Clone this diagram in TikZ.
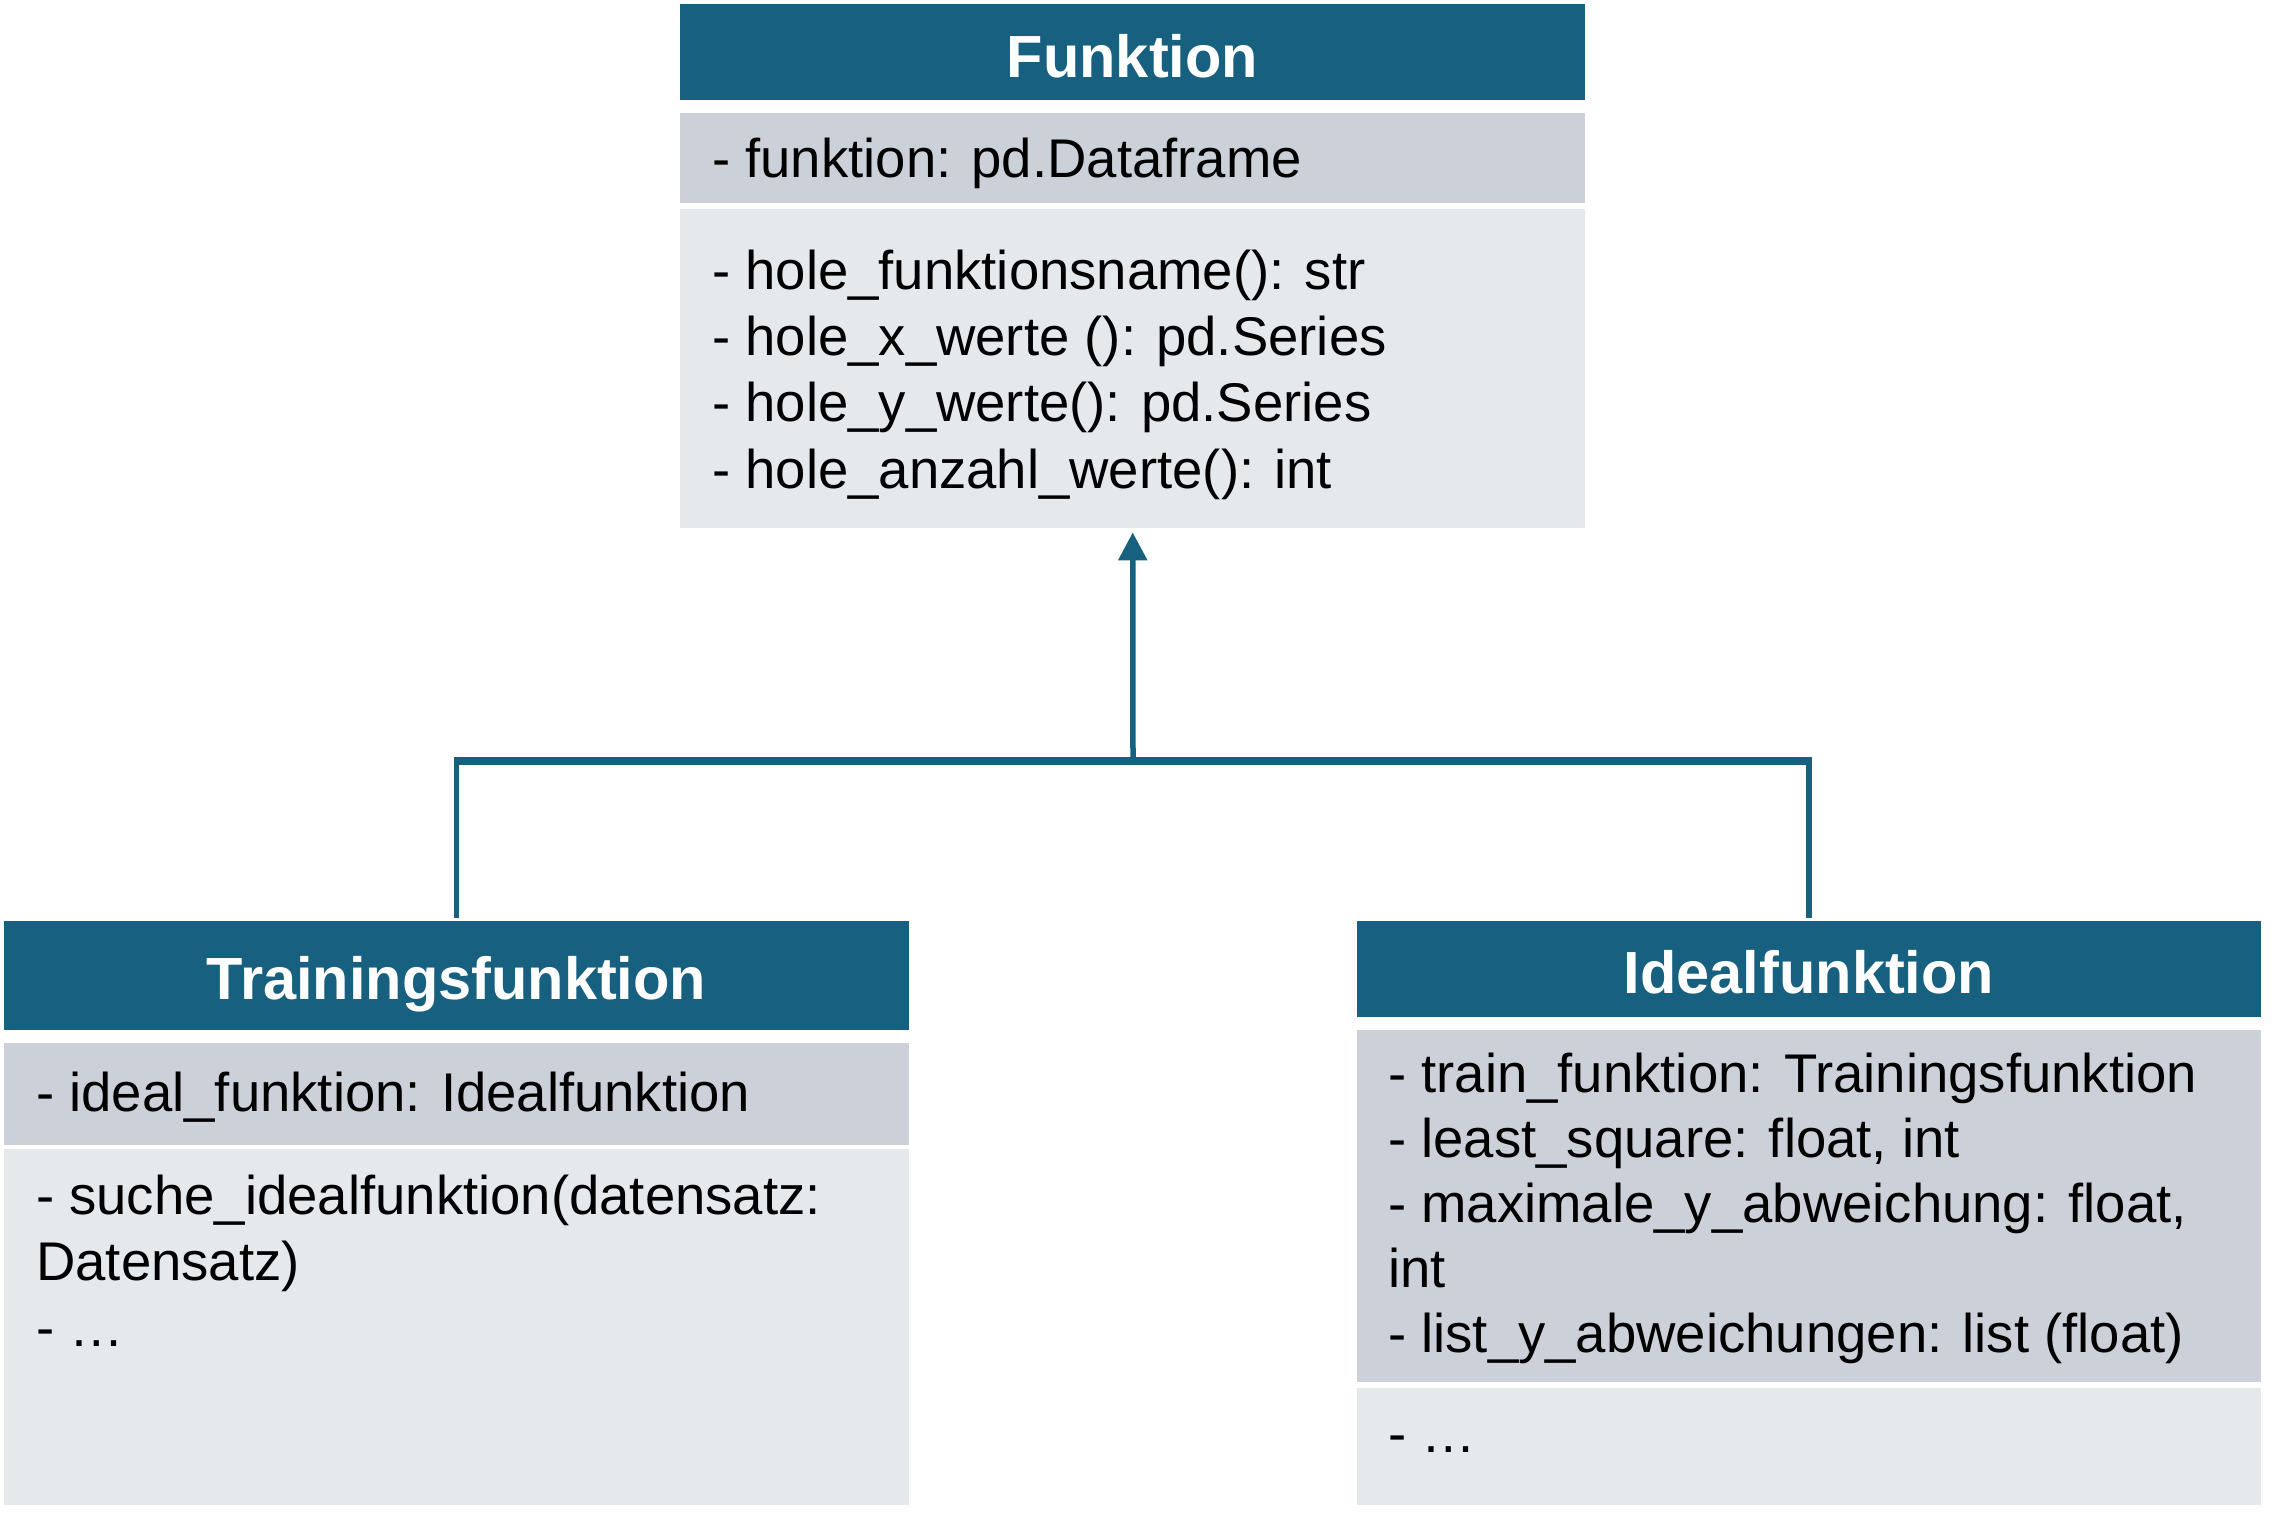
\documentclass[tikz,border=0pt]{standalone}
\usepackage{fontspec}
\setmainfont{Liberation Sans}
\usetikzlibrary{arrows.meta}
\definecolor{headc}{RGB}{23,96,128}
\definecolor{attrc}{RGB}{204,209,217}
\definecolor{methc}{RGB}{230,233,236}
\begin{document}
\begin{tikzpicture}[x=1pt,y=-1pt,
  band/.style={rectangle,inner sep=0pt,draw=none,anchor=north west},
  headband/.style={band,fill=headc},
  attrband/.style={band,fill=attrc},
  methband/.style={band,fill=methc},
  title/.style={inner sep=0pt,anchor=base,text=white,font=\fontsize{59.5}{70}\selectfont\bfseries},
  txt/.style={inner sep=0pt,anchor=base west,text=black,font=\fontsize{54.5}{66}\selectfont},
  vert/.style={draw=headc,line width=5.5pt},
  bar/.style={draw=headc,line width=8pt}]
\useasboundingbox (0,0) rectangle (2274,1515);
% Funktion
\node[headband,minimum width=905,minimum height=96] (fhead) at (680,4) {};
\node[attrband,minimum width=905,minimum height=90] (fattr) at (680,113) {};
\node[methband,minimum width=905,minimum height=319] (fmeth) at (680,209) {};
\node[title] (ftitle) at (1132.5,77) {Funktion};
\node[txt] (fa1) at (712,177) {- funktion: pd.Dataframe};
\node[txt] (fm1) at (712,289) {- hole\_funktionsname(): str};
\node[txt] (fm2) at (712,355) {- hole\_x\_werte (): pd.Series};
\node[txt] (fm3) at (712,421) {- hole\_y\_werte(): pd.Series};
\node[txt] (fm4) at (712,488) {- hole\_anzahl\_werte(): int};
% Trainingsfunktion
\node[headband,minimum width=905,minimum height=109] (thead) at (4,921) {};
\node[attrband,minimum width=905,minimum height=102] (tattr) at (4,1043) {};
\node[methband,minimum width=905,minimum height=356] (tmeth) at (4,1149) {};
\node[title] (ttitle) at (456.5,999) {Trainingsfunktion};
\node[txt] (ta1) at (36,1111) {- ideal\_funktion: Idealfunktion};
\node[txt] (tm1) at (36,1214) {- suche\_idealfunktion(datensatz:};
\node[txt] (tm2) at (36,1280) {Datensatz)};
\node[txt] (tm3) at (36,1346) {- …};
% Idealfunktion
\node[headband,minimum width=904,minimum height=96] (ihead) at (1357,921) {};
\node[attrband,minimum width=904,minimum height=352] (iattr) at (1357,1030) {};
\node[methband,minimum width=904,minimum height=117] (imeth) at (1357,1388) {};
\node[title] (ititle) at (1809,993) {Idealfunktion};
\node[txt] (ia1) at (1388,1092) {- train\_funktion: Trainingsfunktion};
\node[txt] (ia2) at (1388,1157) {- least\_square: float, int};
\node[txt] (ia3) at (1388,1222) {- maximale\_y\_abweichung: float,};
\node[txt] (ia4) at (1388,1287) {int};
\node[txt] (ia5) at (1388,1352) {- list\_y\_abweichungen: list (float)};
\node[txt] (im1) at (1388,1452) {- …};
% connectors
\coordinate (join) at (1133,761);
\draw[vert] ([yshift=3pt]thead.north) -- (thead.north |- join);
\draw[vert] ([yshift=3pt]ihead.north) -- (ihead.north |- join);
\draw[bar] ([xshift=-2.75pt]thead.north |- join) -- ([xshift=2.75pt]ihead.north |- join);
\draw[vert,-{Triangle[length=28pt,width=28pt]},shorten >=4pt] (join) -- (fmeth.south);
\end{tikzpicture}
\end{document}
